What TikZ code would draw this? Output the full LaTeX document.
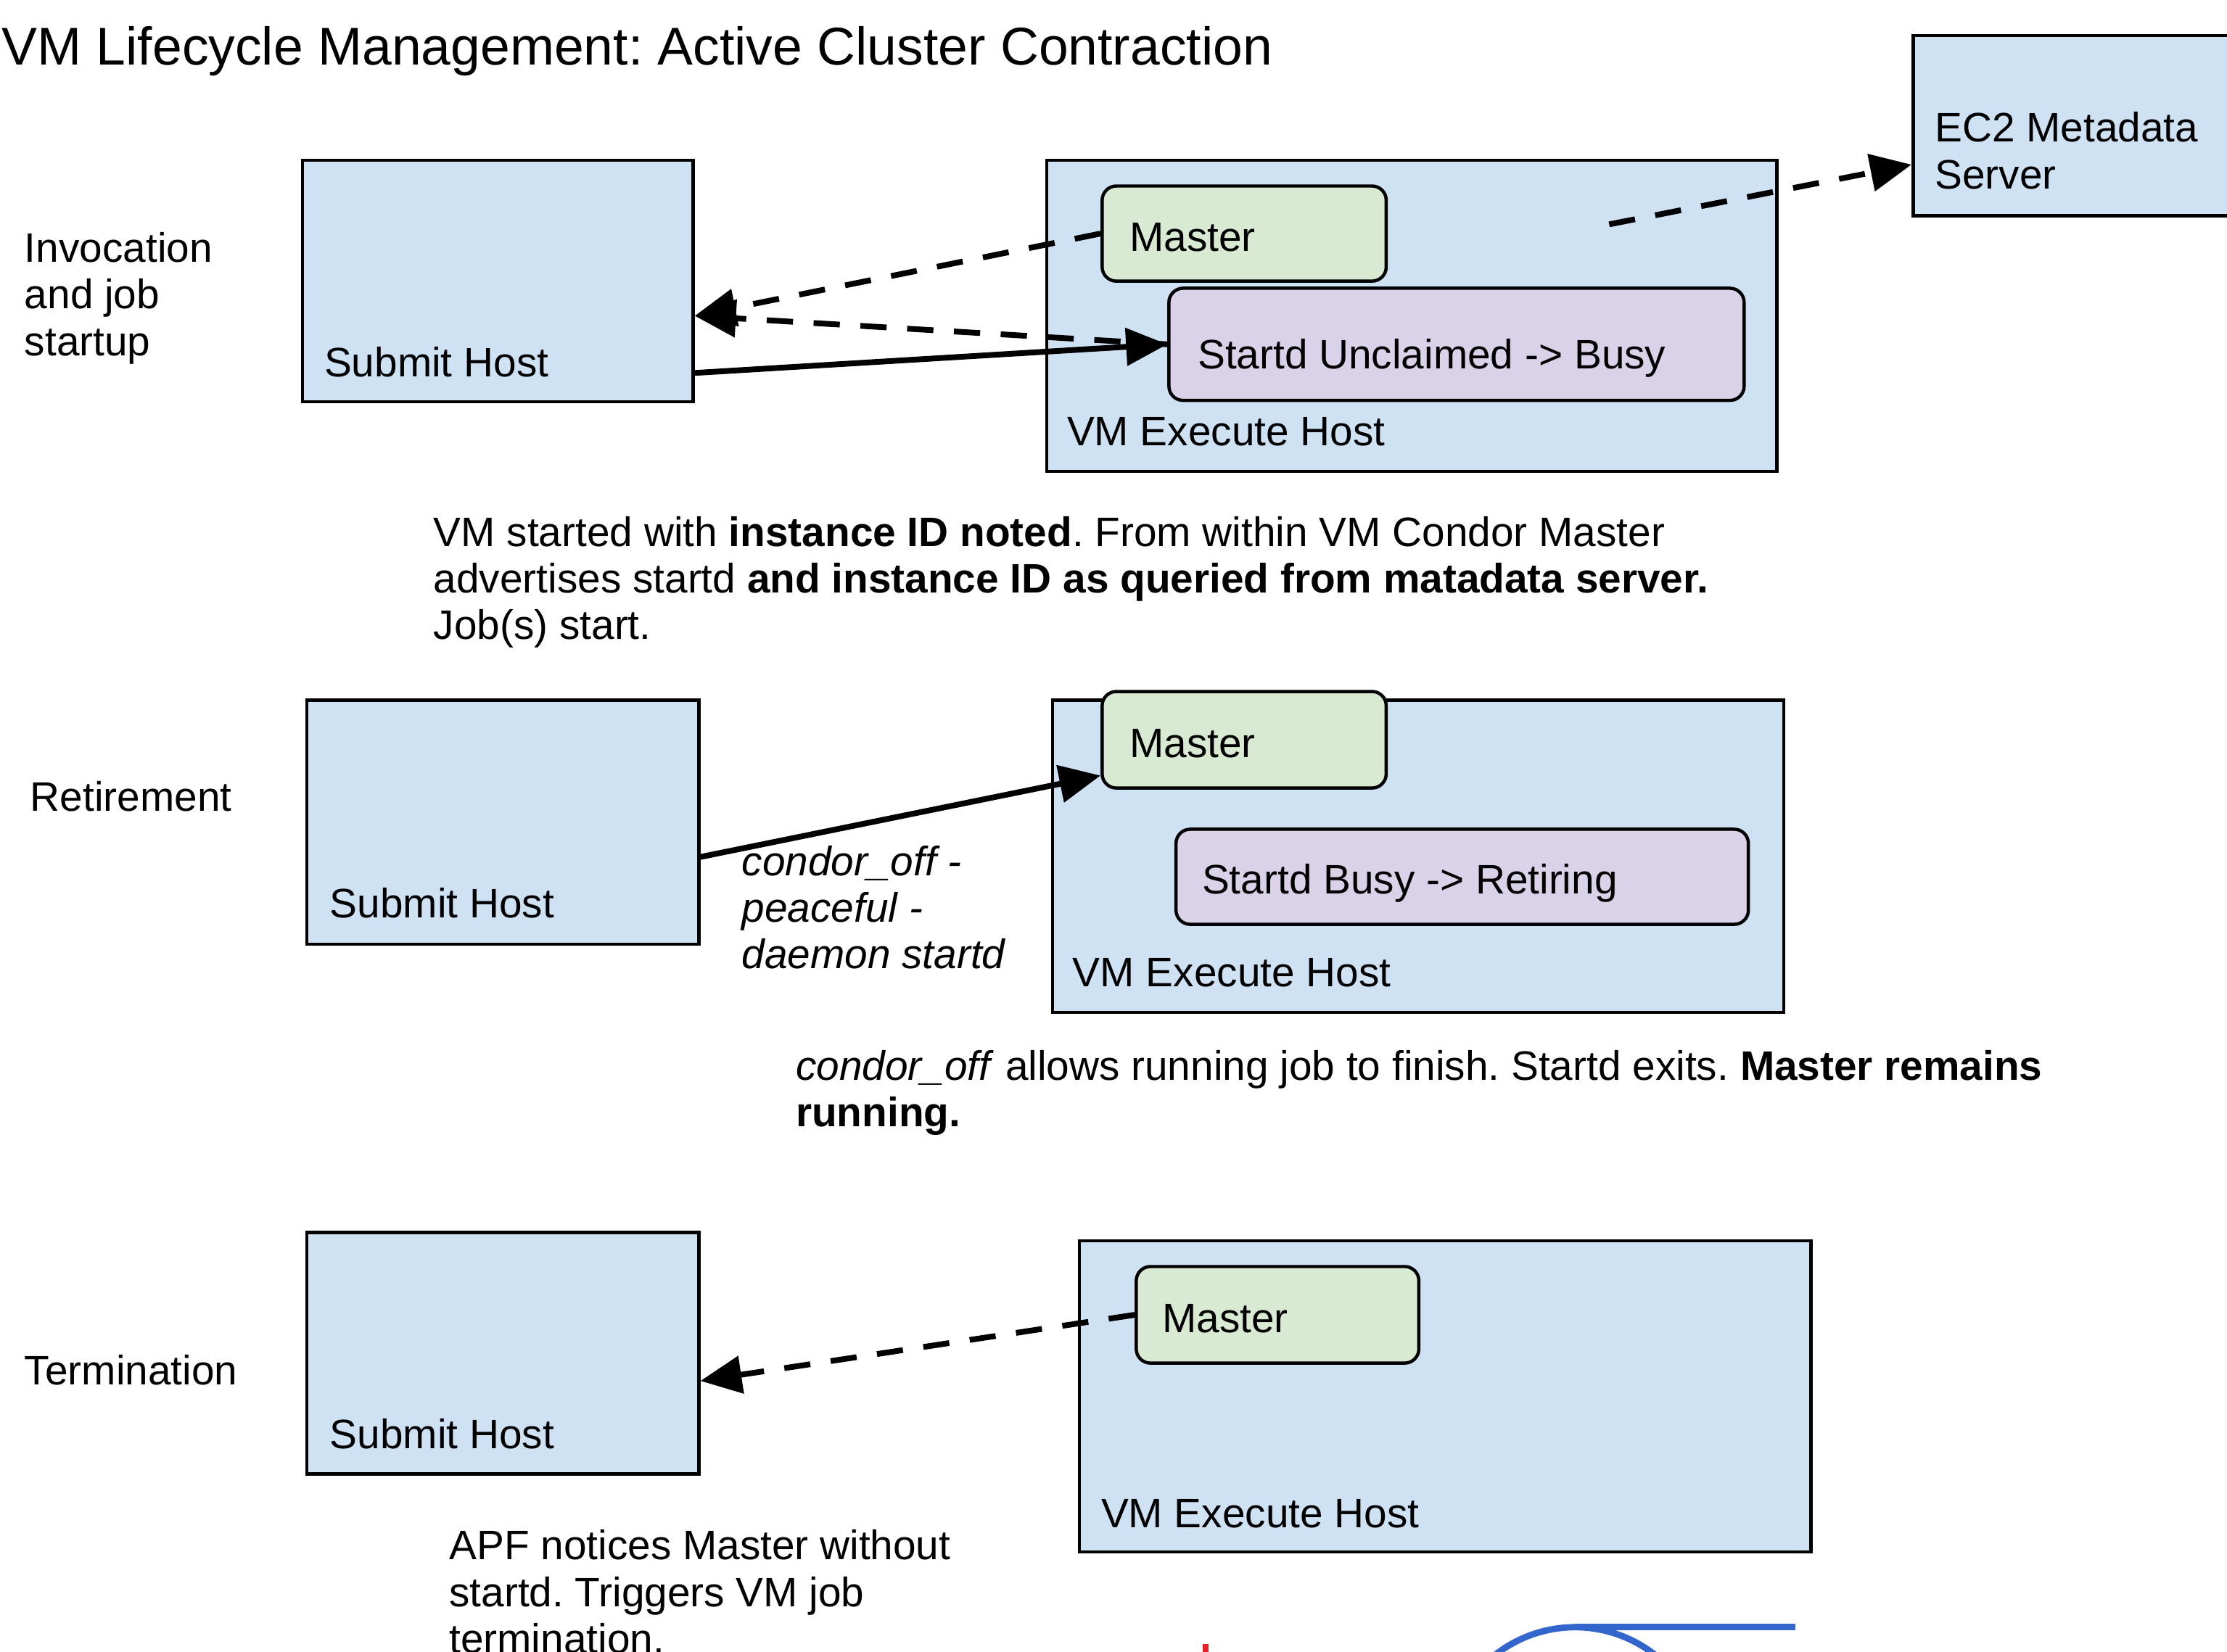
\documentclass[tikz,border=0pt]{standalone}
\usepackage{fontspec}
\setmainfont{Liberation Sans}
\usepackage{tikz}
\usepackage{xcolor}
\usetikzlibrary{arrows.meta}
\usetikzlibrary{positioning}
\definecolor{hostblue}{HTML}{CFE2F3}
\definecolor{mastergreen}{HTML}{D9EAD3}
\definecolor{startdpurple}{HTML}{D9D2E9}
\definecolor{markblue}{HTML}{3366CC}
\definecolor{markred}{HTML}{E8202A}
\tikzstyle{hostbox} = [rectangle, draw=black, fill=hostblue, line width=1.3pt, inner sep=0pt]
\tikzstyle{masterbox} = [rectangle, rounded corners=0.2cm, draw=black, fill=mastergreen, line width=1.3pt, inner sep=0pt]
\tikzstyle{startdbox} = [rectangle, rounded corners=0.2cm, draw=black, fill=startdpurple, line width=1.3pt, inner sep=0pt]
\tikzstyle{txt} = [inner sep=0pt, anchor=west, align=left, font=\fontsize{16.5}{18.7}\selectfont]
\tikzstyle{arrow} = [line width=2.3pt, -{Triangle[length=0.58cm, width=0.52cm]}]
\tikzstyle{dasharrow} = [arrow, dash pattern=on 0.37cm off 0.29cm]
\frenchspacing

\begin{document}
\begin{tikzpicture}
    \useasboundingbox (0,0) rectangle (31.36,-23.26);
        \node (title) [txt, font=\fontsize{21.3}{24}\selectfont] at (0.02,-0.72) {VM Lifecycle Management: Active Cluster Contraction};

        % invocation and job startup
        \node (stage1) [txt] at (0.34,-4.20) {Invocation\\and job\\startup};
        \node (sub1) [hostbox, minimum width=5.5cm, minimum height=3.4cm] at (7.01,-3.96) {};
        \node (sub1txt) [txt] at (4.56,-5.10) {Submit Host};
        \node (vm1) [hostbox, minimum width=10.28cm, minimum height=4.38cm] at (19.88,-4.45) {};
        \node (vm1txt) [txt] at (15.02,-6.08) {VM Execute Host};
        \node (mas1) [masterbox, minimum width=4cm, minimum height=1.34cm] at (17.52,-3.29) {};
        \node (mas1txt) [txt] at (15.90,-3.34) {Master};
        \node (std1) [startdbox, minimum width=8.1cm, minimum height=1.58cm] at (20.51,-4.85) {};
        \node (std1txt) [txt] at (16.86,-5.04) {Startd Unclaimed -> Busy};
        \node (ec2) [hostbox, minimum width=5.6cm, minimum height=2.54cm] at (29.74,-1.77) {};
        \node (ec2txt) [txt] at (27.24,-2.12) {EC2 Metadata\\Server};
        \coordinate (ec2src) at (22.66,-3.16);
        \node (note1) [txt] at (6.10,-8.20) {VM started with \textbf{instance ID noted}. From within VM Condor Master\\advertises startd \textbf{and instance ID as queried from matadata server.}\\Job(s) start.};

        \draw [dasharrow] (mas1.west) -- (sub1.-10);
        \draw [dasharrow] (std1.west) -- (sub1.-10);
        \draw [arrow] (sub1.-25) -- (std1.west);
        \draw [dasharrow] (ec2src) -- (ec2.191);

        % retirement
        \node (stage2) [txt] at (0.42,-11.22) {Retirement};
        \node (sub2) [hostbox, minimum width=5.52cm, minimum height=3.44cm] at (7.08,-11.58) {};
        \node (sub2txt) [txt] at (4.64,-12.72) {Submit Host};
        \node (vm2) [hostbox, minimum width=10.3cm, minimum height=4.4cm] at (19.97,-12.06) {};
        \node (vm2txt) [txt] at (15.10,-13.70) {VM Execute Host};
        \node (mas2) [masterbox, minimum width=4cm, minimum height=1.36cm] at (17.52,-10.42) {};
        \node (mas2txt) [txt] at (15.90,-10.47) {Master};
        \node (std2) [startdbox, minimum width=8.06cm, minimum height=1.34cm] at (20.59,-12.35) {};
        \node (std2txt) [txt] at (16.92,-12.44) {Startd Busy -> Retiring};
        \node (off2) [txt, font=\fontsize{16.5}{18.7}\selectfont\itshape] at (10.44,-12.78) {condor\_off -\\peaceful -\\daemon startd};
        \node (note2) [txt] at (11.20,-15.39) {\textit{condor\_off} allows running job to finish. Startd exits. \textbf{Master remains}\\\textbf{running.}};

        \draw [arrow] (sub2.-10) -- (mas2.194);

        % termination
        \node (stage3) [txt] at (0.34,-19.30) {Termination};
        \node (sub3) [hostbox, minimum width=5.52cm, minimum height=3.4cm] at (7.08,-19.06) {};
        \node (sub3txt) [txt] at (4.64,-20.20) {Submit Host};
        \node (vm3) [hostbox, minimum width=10.3cm, minimum height=4.38cm] at (20.35,-19.67) {};
        \node (vm3txt) [txt] at (15.50,-21.32) {VM Execute Host};
        \node (mas3) [masterbox, minimum width=3.98cm, minimum height=1.36cm] at (17.99,-18.52) {};
        \node (mas3txt) [txt] at (16.36,-18.57) {Master};
        \node (note3) [txt] at (6.32,-22.42) {APF notices Master without\\startd. Triggers VM job\\termination.};

        \draw [dasharrow] (mas3.west) -- (sub3.-8);

        % stray marks at the lower edge
        \fill [markred] (16.94,-23.16) rectangle (17.02,-23.30);
        \draw [markblue, line width=0.09cm] (22.18,-24.74) ++(147:1.82) arc[start angle=147, end angle=33, radius=1.82];
        \draw [markblue, line width=0.09cm] (22.18,-22.92) -- (25.28,-22.92);
    \end{tikzpicture}
\end{document}
